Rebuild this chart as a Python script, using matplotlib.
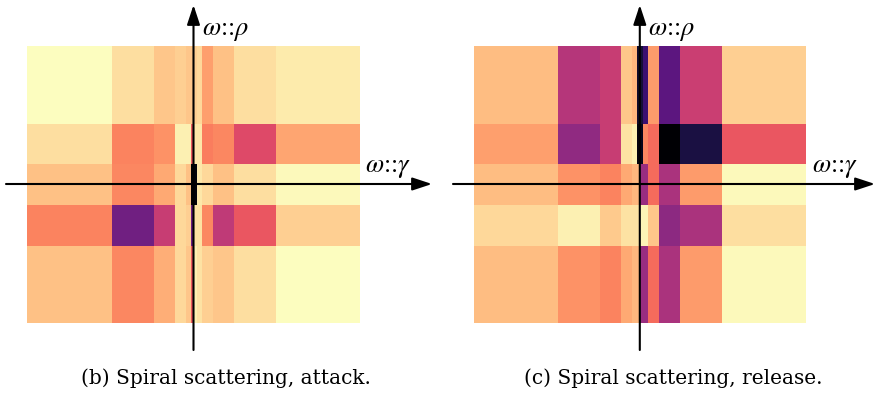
import numpy as np
import matplotlib
matplotlib.use("Agg")
import matplotlib.pyplot as plt

# ---- data -------------------------------------------------------------
# bin edges along omega::gamma (columns) and omega::rho (rows, top -> bottom)
x_edges = [-166.5, -82, -40, -19, -8, -3, 0, 3, 8, 19, 40, 82, 166.5]
y_edges = [138.5, 61, 20.5, -20.5, -61, -138.5]

# normalised energy per cell (rows top -> bottom, columns left -> right)
attack = [
    [0.00, 0.07, 0.12, 0.10, 0.12, 0.12, 0.10, 0.08, 0.20, 0.13, 0.07, 0.04],
    [0.07, 0.26, 0.23, 0.03, 0.03, 0.35, 0.05, 0.05, 0.27, 0.25, 0.40, 0.19],
    [0.13, 0.25, 0.18, 0.08, 0.13, 1.00, 0.98, 0.05, 0.08, 0.13, 0.07, 0.01],
    [0.26, 0.67, 0.46, 0.08, 0.10, 0.68, 0.06, 0.06, 0.25, 0.48, 0.36, 0.10],
    [0.13, 0.25, 0.17, 0.08, 0.12, 0.35, 0.03, 0.06, 0.10, 0.12, 0.07, 0.00],
]
release = [
    [0.14, 0.50, 0.46, 0.12, 0.15, 0.92, 0.90, 0.80, 0.21, 0.72, 0.45, 0.10],
    [0.20, 0.59, 0.46, 0.06, 0.03, 0.97, 0.95, 0.25, 0.31, 1.00, 0.88, 0.36],
    [0.14, 0.23, 0.26, 0.18, 0.15, 0.15, 0.57, 0.57, 0.31, 0.53, 0.21, 0.01],
    [0.08, 0.03, 0.11, 0.06, 0.06, 0.06, 0.02, 0.02, 0.12, 0.60, 0.53, 0.07],
    [0.14, 0.23, 0.26, 0.18, 0.15, 0.15, 0.57, 0.57, 0.31, 0.53, 0.21, 0.01],
]
captions = ["(b) Spiral scattering, attack.", "(c) Spiral scattering, release."]
label_rho = r"$\omega$::$\rho$"
label_gamma = r"$\omega$::$\gamma$"

# ---- figure -----------------------------------------------------------
W, H = 875, 396
plt.rcParams["mathtext.fontset"] = "stix"
fig = plt.figure(figsize=(W / 100, H / 100), dpi=100)

panels = [
    dict(data=attack, box=(27, 46, 360, 323), cx=193.5, cy=184,
         xl=(6, 432), yl=(350, 5), rho=(202, 31), gam=(365, 168), cap=(226, 378)),
    dict(data=release, box=(474, 46, 806, 323), cx=639.8, cy=184,
         xl=(453, 875), yl=(350, 5), rho=(648, 31), gam=(812, 168), cap=(673, 378)),
]

overlay = fig.add_axes([0, 0, 1, 1], zorder=5)
overlay.set_xlim(0, W)
overlay.set_ylim(H, 0)
overlay.axis("off")
overlay.patch.set_alpha(0)

for p in panels:
    x0, y0, x1, y1 = p["box"]
    ax = fig.add_axes([x0 / W, 1 - y1 / H, (x1 - x0) / W, (y1 - y0) / H])
    Z = np.array(p["data"])[::-1]
    ax.pcolormesh(x_edges, y_edges[::-1], Z, cmap="magma_r", vmin=0, vmax=1,
                  shading="flat", edgecolors="none", antialiased=False)
    ax.set_xlim(x_edges[0], x_edges[-1])
    ax.set_ylim(y_edges[-1], y_edges[0])
    ax.axis("off")

    # axes arrows
    arrow = dict(arrowstyle="-|>,head_length=0.85,head_width=0.28",
                 color="black", lw=1.5, mutation_scale=14, shrinkA=0, shrinkB=0)
    overlay.annotate("", xy=(p["xl"][1], p["cy"]), xytext=(p["xl"][0], p["cy"]),
                     arrowprops=arrow)
    overlay.annotate("", xy=(p["cx"], p["yl"][1]), xytext=(p["cx"], p["yl"][0]),
                     arrowprops=arrow)
    overlay.text(p["rho"][0], p["rho"][1], label_rho, fontsize=19,
                 family="STIXGeneral", ha="left", va="center")
    overlay.text(p["gam"][0], p["gam"][1], label_gamma, fontsize=19,
                 family="STIXGeneral", ha="left", va="center")

for p, cap in zip(panels, captions):
    overlay.text(p["cap"][0], p["cap"][1], cap, fontsize=14.5,
                 family="DejaVu Serif", ha="center", va="center")

fig.savefig("out.png", dpi=100)
